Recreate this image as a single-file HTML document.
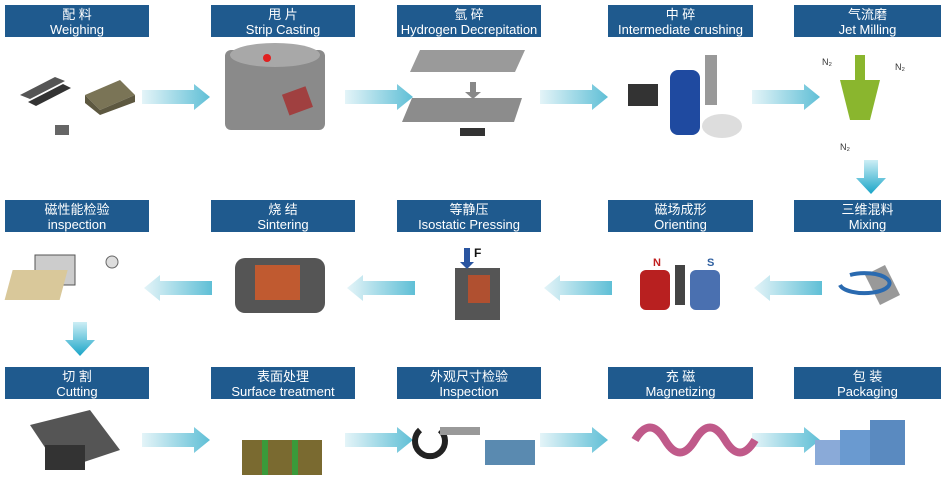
<!DOCTYPE html>
<html><head><meta charset="utf-8"><style>
body{margin:0;width:946px;height:493px;background:#fff;position:relative;overflow:hidden;font-family:"Liberation Sans","Noto Sans CJK SC",sans-serif}
.h{position:absolute;background:#1f5a8e;color:#fff;text-align:center;font-size:13px;line-height:15px;padding-top:2px;box-sizing:border-box;height:32px}
.a{position:absolute}
</style></head><body>
<div class="h" style="left:5px;top:5px;width:144px">配 料<br>Weighing</div>
<div class="h" style="left:211px;top:5px;width:144px">甩 片<br>Strip Casting</div>
<div class="h" style="left:397px;top:5px;width:144px">氫 碎<br>Hydrogen Decrepitation</div>
<div class="h" style="left:608px;top:5px;width:145px">中 碎<br>Intermediate crushing</div>
<div class="h" style="left:794px;top:5px;width:147px">气流磨<br>Jet Milling</div>
<div class="h" style="left:5px;top:200px;width:144px">磁性能检验<br>inspection</div>
<div class="h" style="left:211px;top:200px;width:144px">烧 结<br>Sintering</div>
<div class="h" style="left:397px;top:200px;width:144px">等静压<br>Isostatic Pressing</div>
<div class="h" style="left:608px;top:200px;width:145px">磁场成形<br>Orienting</div>
<div class="h" style="left:794px;top:200px;width:147px">三维混料<br>Mixing</div>
<div class="h" style="left:5px;top:367px;width:144px">切 割<br>Cutting</div>
<div class="h" style="left:211px;top:367px;width:144px">表面处理<br>Surface treatment</div>
<div class="h" style="left:397px;top:367px;width:144px">外观尺寸检验<br>Inspection</div>
<div class="h" style="left:608px;top:367px;width:145px">充 磁<br>Magnetizing</div>
<div class="h" style="left:794px;top:367px;width:147px">包 装<br>Packaging</div>

<svg class="a" style="left:0;top:0" width="946" height="493">
<defs>
<linearGradient id="g" x1="0" x2="1"><stop offset="0" stop-color="#e4f4f8"/><stop offset="1" stop-color="#5fbfd6"/></linearGradient>
<linearGradient id="gl" x1="1" x2="0"><stop offset="0" stop-color="#e4f4f8"/><stop offset="1" stop-color="#5fbfd6"/></linearGradient>
<linearGradient id="gd" x1="0" y1="0" x2="0" y2="1"><stop offset="0" stop-color="#cdeef5"/><stop offset="1" stop-color="#1aa5c8"/></linearGradient>
<g id="ar"><path d="M0,-7 H52 V-13 L68,0 L52,13 V7 H0 Z"/></g>
</defs>
<g fill="url(#g)">
<use href="#ar" x="142" y="97"/><use href="#ar" x="345" y="97"/><use href="#ar" x="540" y="97"/><use href="#ar" x="752" y="97"/>
<use href="#ar" x="142" y="440"/><use href="#ar" x="345" y="440"/><use href="#ar" x="540" y="440"/><use href="#ar" x="752" y="440"/>
</g>
<g fill="url(#gl)">
<use href="#ar" transform="translate(212,288) scale(-1,1)"/><use href="#ar" transform="translate(415,288) scale(-1,1)"/><use href="#ar" transform="translate(612,288) scale(-1,1)"/><use href="#ar" transform="translate(822,288) scale(-1,1)"/>
</g>
<path fill="url(#gd)" d="M864,160 h14 v18 h8 l-15,16 l-15,-16 h8z"/>
<path fill="url(#gd)" d="M73,322 h14 v18 h8 l-15,16 l-15,-16 h8z"/>
<g fill="#555"><path d="M20,95 l35,-18 l10,4 l-35,18z"/><path d="M28,102 l35,-18 l8,4 l-35,18z" fill="#333"/></g>
<path d="M85,95 l35,-15 l15,15 l-35,15z" fill="#7a7456"/><path d="M85,95 l0,8 l15,12 l35,-13 v-7 l-35,15z" fill="#5d5840"/>
<path d="M55,125 h14 v10 h-14z" fill="#666"/>
<rect x="225" y="50" width="100" height="80" rx="6" fill="#8a8a8a"/><ellipse cx="275" cy="55" rx="45" ry="12" fill="#a8a8a8"/><circle cx="267" cy="58" r="4" fill="#e02020"/><rect x="285" y="90" width="25" height="22" fill="#a04040" transform="rotate(-20 297 101)"/>
<path d="M420,50 h105 l-10,22 h-105z" fill="#9a9a9a"/><path d="M412,98 h110 l-8,24 h-112z" fill="#8c8c8c"/><path d="M470,82 v10 h-5 l8,7 l8,-7 h-5 v-10z" fill="#888"/><rect x="460" y="128" width="25" height="8" fill="#333"/>
<rect x="670" y="70" width="30" height="65" rx="8" fill="#1f4aa0"/><rect x="705" y="55" width="12" height="50" fill="#999"/><rect x="628" y="84" width="30" height="22" fill="#333"/><ellipse cx="722" cy="126" rx="20" ry="12" fill="#ddd"/>
<path d="M840,80 h40 l-10,40 h-20z" fill="#8ab62e"/><rect x="855" y="55" width="10" height="30" fill="#8ab62e"/><text x="840" y="150" font-size="9" fill="#333">N₂</text><text x="822" y="65" font-size="9" fill="#333">N₂</text><text x="895" y="70" font-size="9" fill="#333">N₂</text>
<rect x="35" y="255" width="40" height="30" fill="#ccc" stroke="#555"/><rect x="85" y="270" width="55" height="30" fill="#d9c89a" transform="skewX(-15)"/><circle cx="112" cy="262" r="6" fill="#ddd" stroke="#666"/>
<rect x="235" y="258" width="90" height="55" rx="10" fill="#555"/><rect x="255" y="265" width="45" height="35" fill="#c05a30"/>
<rect x="455" y="268" width="45" height="52" fill="#555"/><rect x="468" y="275" width="22" height="28" fill="#b05030"/><path d="M464,248 h6 v14 h4 l-7,7 l-7,-7 h4z" fill="#2a55a0"/><text x="474" y="257" font-size="12" font-weight="bold" fill="#111">F</text>
<rect x="640" y="270" width="30" height="40" rx="6" fill="#b82020"/><rect x="690" y="270" width="30" height="40" rx="6" fill="#4a70b0"/><rect x="675" y="265" width="10" height="40" fill="#444"/>
<text x="653" y="266" font-size="11" font-weight="bold" fill="#c02020">N</text><text x="707" y="266" font-size="11" font-weight="bold" fill="#3060a0">S</text>
<path d="M865,275 l20,-10 l15,30 l-20,10z" fill="#999"/><path d="M840,285 a25,10 0 1 0 10,-10" fill="none" stroke="#2a6ab0" stroke-width="4"/>
<path d="M30,425 l60,-15 l30,40 l-60,20z" fill="#555"/><rect x="45" y="445" width="40" height="25" fill="#333"/>
<rect x="242" y="440" width="80" height="35" fill="#7a6a30"/><rect x="262" y="440" width="6" height="35" fill="#3a9a3a"/><rect x="292" y="440" width="6" height="35" fill="#3a9a3a"/>
<path d="M420,430 a15,15 0 1 0 20,0" fill="none" stroke="#222" stroke-width="6"/><rect x="440" y="427" width="40" height="8" fill="#999"/><rect x="485" y="440" width="50" height="25" fill="#5a8ab0"/>
<path d="M635,440 q15,-25 30,0 q15,25 30,0 q15,-25 30,0 q15,25 30,0" fill="none" stroke="#c05a8a" stroke-width="8"/>
<rect x="840" y="430" width="30" height="35" fill="#6a9ad0"/><rect x="870" y="420" width="35" height="45" fill="#5a8ac0"/><rect x="815" y="440" width="25" height="25" fill="#8aaad8"/>
</svg>
</body></html>
